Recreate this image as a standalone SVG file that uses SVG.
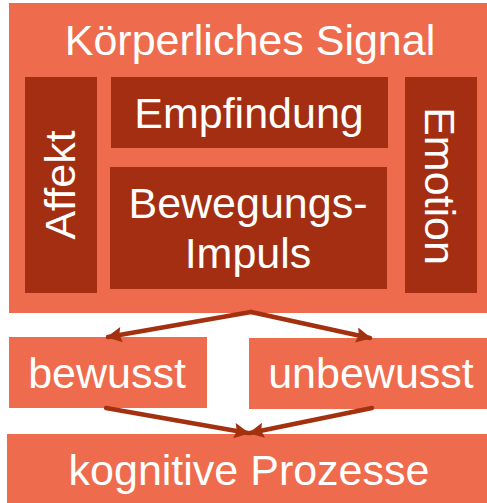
<svg xmlns="http://www.w3.org/2000/svg" width="487" height="503" viewBox="0 0 487 503">
  <defs>
    <style>
      .light { fill: #EE6C4D; }
      .dark { fill: #A32E12; }
      .lbl { fill: #FFFFFF; font-family: "Liberation Sans", Arial, sans-serif; font-size: 43px; text-anchor: middle; }
      .conn { stroke: #A3300F; stroke-width: 4.5; fill: none; stroke-linecap: round; }
    </style>
    <marker id="arrow" viewBox="0 0 10 10" refX="9" refY="5" markerWidth="4.2" markerHeight="3.4" orient="auto" markerUnits="strokeWidth">
      <path d="M0,0 L10,5 L0,10 L1.5,5 Z" fill="#A3300F"/>
    </marker>
  </defs>

  <g id="koerperliches-signal">
    <rect class="light" x="9" y="3" width="478" height="310"/>
    <text class="lbl" x="250" y="55">Körperliches Signal</text>
  </g>

  <g id="affekt">
    <rect class="dark" x="25" y="77" width="72" height="216"/>
    <text class="lbl" transform="translate(75,185) rotate(-90)">Affekt</text>
  </g>

  <g id="empfindung">
    <rect class="dark" x="111" y="77" width="277" height="71"/>
    <text class="lbl" x="249" y="128">Empfindung</text>
  </g>

  <g id="bewegungsimpuls">
    <rect class="dark" x="110" y="167" width="277" height="122"/>
    <text class="lbl" x="248" y="218">Bewegungs-</text>
    <text class="lbl" x="248" y="268">Impuls</text>
  </g>

  <g id="emotion">
    <rect class="dark" x="405" y="77" width="72" height="216"/>
    <text class="lbl" transform="translate(425,186) rotate(90)">Emotion</text>
  </g>

  <g id="bewusst">
    <rect class="light" x="9" y="337" width="198" height="71"/>
    <text class="lbl" x="107" y="388">bewusst</text>
  </g>

  <g id="unbewusst">
    <rect class="light" x="249" y="338" width="238" height="71"/>
    <text class="lbl" x="371" y="388">unbewusst</text>
  </g>

  <g id="kognitive-prozesse">
    <rect class="light" x="7" y="434" width="480" height="69"/>
    <text class="lbl" x="249" y="485">kognitive Prozesse</text>
  </g>

  <g id="connectors">
    <line class="conn" x1="251" y1="312" x2="108" y2="337" marker-end="url(#arrow)"/>
    <line class="conn" x1="251" y1="312" x2="370" y2="338" marker-end="url(#arrow)"/>
    <line class="conn" x1="106" y1="408" x2="248" y2="433" marker-end="url(#arrow)"/>
    <line class="conn" x1="372" y1="408" x2="250" y2="433" marker-end="url(#arrow)"/>
  </g>
</svg>
